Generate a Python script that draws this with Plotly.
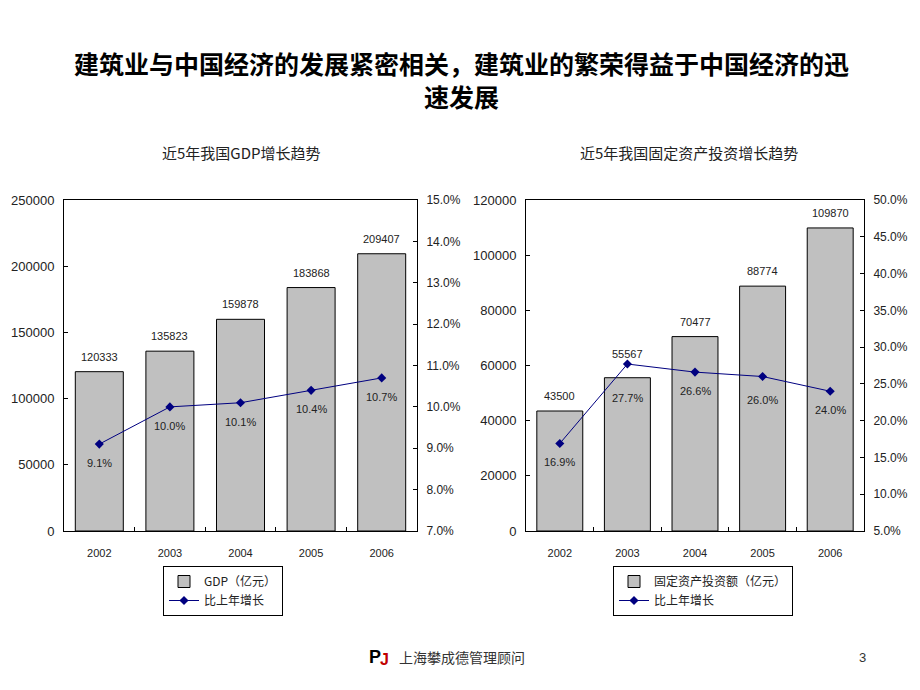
import plotly.graph_objects as go

years = ["2002", "2003", "2004", "2005", "2006"]

gdp = [120333, 135823, 159878, 183868, 209407]
gdp_growth = [0.091, 0.100, 0.101, 0.104, 0.107]

invest = [43500, 55567, 70477, 88774, 109870]
invest_growth = [0.169, 0.277, 0.266, 0.260, 0.240]

W, H = 920, 690
OFF = 8  # page body margin
num_font = "Liberation Sans, Arial, sans-serif"
cjk_font = "Noto Sans CJK SC, sans-serif"
label_color = "#222"


def px(x):
    return (x - OFF) / W


def py(y):
    return 1 - (y - OFF) / H


fig = go.Figure()

fig.add_trace(go.Bar(
    x=years, y=gdp, name="GDP（亿元）",
    marker=dict(color="#C0C0C0", line=dict(color="black", width=1)),
    width=0.68, xaxis="x", yaxis="y", legend="legend"
))
fig.add_trace(go.Scatter(
    x=years, y=gdp_growth, name="比上年增长", mode="lines+markers",
    line=dict(color="#000080", width=1),
    marker=dict(symbol="diamond", size=7, color="#000080"),
    xaxis="x", yaxis="y2", legend="legend"
))
fig.add_trace(go.Bar(
    x=years, y=invest, name="固定资产投资额（亿元）",
    marker=dict(color="#C0C0C0", line=dict(color="black", width=1)),
    width=0.68, xaxis="x2", yaxis="y3", legend="legend2"
))
fig.add_trace(go.Scatter(
    x=years, y=invest_growth, name="比上年增长", mode="lines+markers",
    line=dict(color="#000080", width=1),
    marker=dict(symbol="diamond", size=7, color="#000080"),
    xaxis="x2", yaxis="y4", legend="legend2"
))

# data labels (bar values above bars, growth below markers); x given as category index
label_font = dict(family=num_font, size=11, color=label_color)
for i, v in enumerate(gdp):
    fig.add_annotation(x=i, y=v, xref="x", yref="y", text=str(v), showarrow=False,
                       yanchor="middle", yshift=15, font=label_font)
for i, v in enumerate(gdp_growth):
    fig.add_annotation(x=i, y=v, xref="x", yref="y2", text=f"{v*100:.1f}%", showarrow=False,
                       yanchor="middle", yshift=-19, font=label_font)
bar_nudge = {"2003": 24}
for i, v in enumerate(invest):
    fig.add_annotation(x=i, y=v, xref="x2", yref="y3", text=str(v), showarrow=False,
                       yanchor="middle", yshift=bar_nudge.get(years[i], 15), font=label_font)
pct_nudge = {"2003": -34, "2005": -23}
for i, v in enumerate(invest_growth):
    fig.add_annotation(x=i, y=v, xref="x2", yref="y4", text=f"{v*100:.1f}%", showarrow=False,
                       yanchor="middle", yshift=pct_nudge.get(years[i], -19), font=label_font)

year_font = dict(family=num_font, size=11, color=label_color)
xcommon = dict(type="category", range=[-0.5, len(years) - 0.5],
               showline=True, linecolor="black", linewidth=1, mirror=True,
               ticks="inside", ticklen=4, tickson="boundaries", tickcolor="black",
               tickfont=year_font, ticklabelstandoff=12, showgrid=False, automargin=False)
ycommon = dict(showline=True, linecolor="black", linewidth=1, ticks="inside", ticklen=4,
               tickcolor="black", showgrid=False, zeroline=False,
               ticklabelstandoff=6, automargin=False)
left_font = dict(family=num_font, size=13, color=label_color)
right_font = dict(family=num_font, size=12, color=label_color)

legend_common = dict(bordercolor="black", borderwidth=1, bgcolor="white",
                     font=dict(family=cjk_font, size=12, color=label_color),
                     xanchor="left", yanchor="top", tracegroupgap=0, itemwidth=30)

fig.update_layout(
    width=W, height=H, margin=dict(l=0, r=0, t=0, b=0, autoexpand=False),
    paper_bgcolor="white", plot_bgcolor="white",
    barmode="group",
    xaxis=dict(domain=[px(64), px(417)], anchor="y", **xcommon),
    yaxis=dict(domain=[py(531), py(200)], anchor="x", range=[0, 250000], dtick=50000,
               tickformat="d", tickfont=left_font, **ycommon),
    yaxis2=dict(overlaying="y", side="right", anchor="x", range=[0.07, 0.15], dtick=0.01,
                tickformat=".1%", tickfont=right_font, **ycommon),
    xaxis2=dict(domain=[px(526), px(864)], anchor="y3", **xcommon),
    yaxis3=dict(domain=[py(531), py(200)], anchor="x2", range=[0, 120000], dtick=20000,
                tickformat="d", tickfont=left_font, **ycommon),
    yaxis4=dict(overlaying="y3", side="right", anchor="x2", range=[0.05, 0.50], dtick=0.05,
                tickformat=".1%", tickfont=right_font, **ycommon),
    legend=dict(x=px(163), y=py(566), **legend_common),
    legend2=dict(x=px(613), y=py(566), **legend_common),
)


def note(x, y, text, font, xanchor="center"):
    fig.add_annotation(x=px(x), y=py(y), xref="paper", yref="paper", showarrow=False,
                       xanchor=xanchor, yanchor="middle", text=text, font=font)


title_font = dict(family=cjk_font, size=25, color="black")
note(461, 80, "<b>建筑业与中国经济的发展紧密相关，建筑业的繁荣得益于中国经济的迅<br>速发展</b>",
     title_font)

sub_font = dict(family=cjk_font, size=15, color=label_color)
note(241, 152, "近5年我国GDP增长趋势", sub_font)
note(689, 152, "近5年我国固定资产投资增长趋势", sub_font)

# footer
note(375, 657, "<b>P</b>", dict(family="Liberation Sans", size=18, color="black"))
note(384, 659, "<b>J</b>", dict(family="Liberation Sans", size=16, color="#C00000"))
note(397, 657, "上海攀成德管理顾问", dict(family=cjk_font, size=14, color="#333"), xanchor="left")
note(862, 657, "3", dict(family="Liberation Sans", size=13, color="#333"))

fig.write_html("out.html")
